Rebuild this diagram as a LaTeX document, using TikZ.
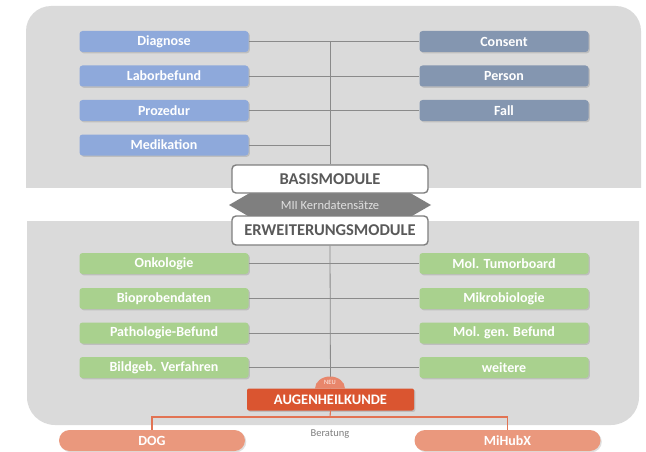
\documentclass[tikz,border=0pt]{standalone}
\usepackage{fontspec}
\setmainfont{Carlito}
\usepackage{tikz}
\usepackage{xcolor}
\usetikzlibrary{positioning,shadows}
\definecolor{panelgray}{HTML}{DADADA}
\definecolor{linegray}{HTML}{8A8A8A}
\definecolor{framegray}{HTML}{7F7F7F}
\definecolor{titlegray}{HTML}{595959}
\definecolor{basisblue}{HTML}{8EA9DB}
\definecolor{coreslate}{HTML}{8496B0}
\definecolor{extgreen}{HTML}{A9D18E}
\definecolor{augenred}{HTML}{DA5530}
\definecolor{neured}{HTML}{E8866B}
\definecolor{partnerpink}{HTML}{EA987D}
\definecolor{partnerline}{HTML}{E27353}
\tikzset{
  modbox/.style={rounded corners=3pt,minimum width=169pt,minimum height=21pt,
                 inner sep=0pt,text=white,font=\fontsize{14}{14}\selectfont\bfseries,
                 drop shadow={shadow xshift=1.3pt,shadow yshift=-1.3pt,opacity=0.3}},
  basismod/.style={modbox,fill=basisblue},
  coremod/.style={modbox,fill=coreslate},
  extmod/.style={modbox,fill=extgreen},
  layerbox/.style={draw=framegray,fill=white,line width=1.4pt,rounded corners=4pt,
                   minimum width=196pt,minimum height=28pt,inner sep=0pt,
                   text=titlegray,font=\fontsize{16.5}{16.5}\selectfont\bfseries},
  partner/.style={fill=partnerpink,rounded corners=10.5pt,minimum width=186pt,
                  minimum height=21pt,inner sep=0pt,text=white,
                  font=\fontsize{14}{14}\selectfont\bfseries,
                  drop shadow={shadow xshift=1.3pt,shadow yshift=-1.3pt,opacity=0.25}},
  trunk/.style={draw=linegray,line width=0.8pt},
  redline/.style={draw=partnerline,line width=1.1pt}
}

\begin{document}
\begin{tikzpicture}[x=1pt,y=-1pt]
  \useasboundingbox (0,0) rectangle (646,452);
  % panels
  \fill[panelgray,rounded corners=25pt] (26,6) rectangle (641,235);
  \fill[panelgray,rounded corners=28pt] (27,175) rectangle (639,425);
  \fill[white] (0,188) rectangle (646,221);
  \fill[framegray] (229,205) -- (255,190) -- (405,190) -- (431,205) -- (405,220) -- (255,220) -- cycle;
  \node[text=white!88!black,font=\fontsize{12.5}{12.5}\selectfont] (mii) at (330,205) {MII Kerndatensätze};

  % basismodule
  \node[basismod] (diag)  at (164,41.5)  {Diagnose};
  \node[basismod] (labor) at (164,76)    {Laborbefund};
  \node[basismod] (proz)  at (164,110.5) {Prozedur};
  \node[basismod] (medi)  at (164,145)   {Medikation};
  \node[coremod] (consent) at (504,41.5)  {Consent};
  \node[coremod] (person)  at (504,76)    {Person};
  \node[coremod] (fall)    at (504,110.5) {Fall};
  \node[layerbox] (basis) at (330,179) {BASISMODULE};
  \coordinate (btop) at (330,41.5);
  \coordinate (bmed) at (330,145);
  \draw[trunk] (btop) -- (basis.north);
  \draw[trunk] (diag.east) -- (consent.west);
  \draw[trunk] (labor.east) -- (person.west);
  \draw[trunk] (proz.east) -- (fall.west);
  \draw[trunk] (medi.east) -- (bmed);

  % erweiterungsmodule
  \node[layerbox,minimum height=29pt] (erw) at (330,230.5) {ERWEITERUNGSMODULE};
  \node[extmod] (onko)   at (164,263.5) {Onkologie};
  \node[extmod] (bioprob) at (164,298.5) {Bioprobendaten};
  \node[extmod] (patho)  at (164,333)   {Pathologie-Befund};
  \node[extmod] (bild)   at (164,367.5) {Bildgeb. Verfahren};
  \node[extmod] (tumor)  at (504,263.5) {Mol. Tumorboard};
  \node[extmod] (mikro)  at (504,298.5) {Mikrobiologie};
  \node[extmod] (molgen) at (504,333)   {Mol. gen. Befund};
  \node[extmod] (weitere) at (504,367.5) {weitere};
  \node[fill=augenred,rounded corners=2pt,minimum width=167pt,minimum height=22pt,
        inner sep=0pt,text=white,font=\fontsize{14.5}{14.5}\selectfont\bfseries,
        drop shadow={shadow xshift=1.3pt,shadow yshift=-1.3pt,opacity=0.3}]
        (augen) at (330.5,399.5) {AUGENHEILKUNDE};
  \draw[trunk] (erw.south) -- (augen.north);
  \draw[trunk] (onko.east) -- (tumor.west);
  \draw[trunk] (bioprob.east) -- (mikro.west);
  \draw[trunk] (patho.east) -- (molgen.west);
  \draw[trunk] (bild.east) -- (weitere.west);
  \fill[neured] (315,388.5) arc[start angle=180,end angle=360,x radius=15,y radius=12] -- cycle;
  \node[text=white!90!neured,font=\fontsize{6.5}{6.5}\selectfont] (neu) at (330,382.5) {NEU};

  % beratung
  \node[partner] (dog)   at (152,440.5)   {DOG};
  \node[partner] (mihub) at (507.5,440.5) {MiHubX};
  \coordinate (split) at (330,417);
  \draw[redline] (augen.south) -- (split);
  \draw[redline] (dog.north) |- (split) -| (mihub.north);
  \node[text=framegray,font=\fontsize{10.5}{10.5}\selectfont] (berat) at (330,434) {Beratung};
\end{tikzpicture}
\end{document}
